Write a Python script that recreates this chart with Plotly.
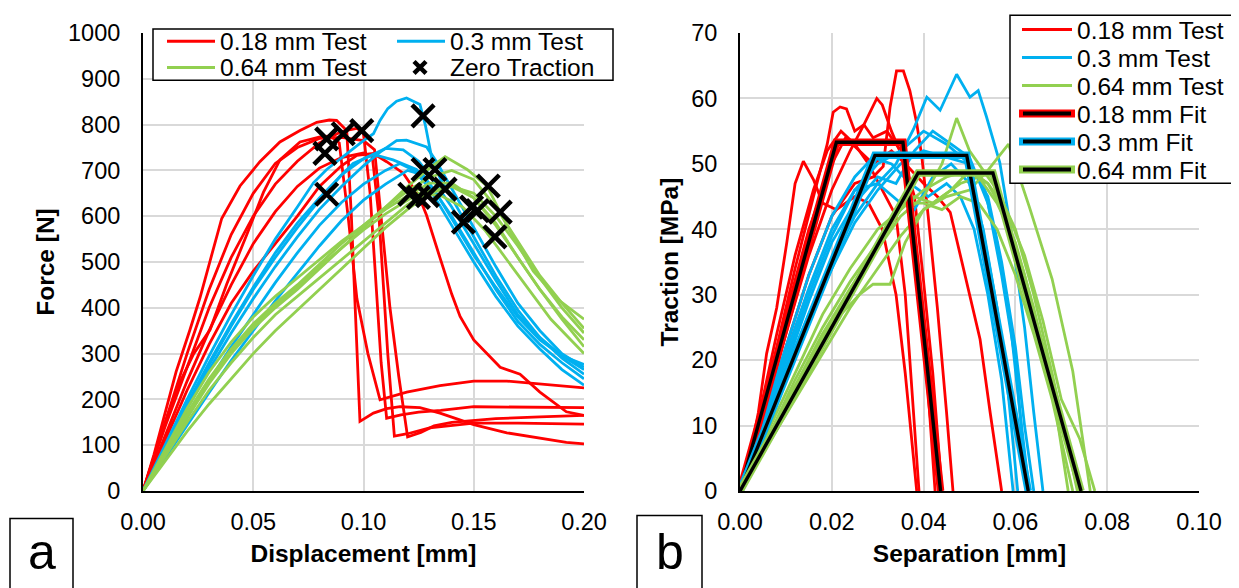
import plotly.graph_objects as go

RED = "#FF0000"
BLUE = "#00B0F0"
GREEN = "#92D050"

# ---------------- Panel a: force vs displacement ----------------
fd_018_x = [
    [0, 0.005, 0.01, 0.015, 0.0213, 0.0259, 0.0304, 0.0357, 0.044, 0.053, 0.0621, 0.0712, 0.0788, 0.0845, 0.0878, 0.0924, 0.0945, 0.0965, 0.0984, 0.1045, 0.1105, 0.1166, 0.1256, 0.1347, 0.1438, 0.15, 0.165, 0.18, 0.192, 0.2],
    [0, 0.008, 0.016, 0.023, 0.0304, 0.038, 0.047, 0.0546, 0.0621, 0.0712, 0.0803, 0.085, 0.089, 0.093, 0.097, 0.102, 0.1075, 0.1196, 0.1347, 0.15, 0.165, 0.18, 0.2],
    [0, 0.01, 0.02, 0.03, 0.04, 0.05, 0.06, 0.07, 0.08, 0.09, 0.097, 0.1, 0.103, 0.106, 0.108, 0.1105, 0.117, 0.125, 0.135, 0.15, 0.165, 0.18, 0.2],
    [0, 0.01, 0.02, 0.03, 0.04, 0.05, 0.06, 0.07, 0.08, 0.09, 0.1, 0.104, 0.107, 0.109, 0.111, 0.114, 0.12, 0.13, 0.14, 0.15, 0.17, 0.2],
    [0, 0.01, 0.02, 0.03, 0.04, 0.05, 0.06, 0.07, 0.08, 0.09, 0.1, 0.105, 0.108, 0.112, 0.116, 0.12, 0.126, 0.132, 0.14, 0.16, 0.18, 0.2],
    [0, 0.01, 0.02, 0.03, 0.04, 0.05, 0.06, 0.07, 0.08, 0.09, 0.097, 0.1045, 0.1105, 0.118, 0.125, 0.1286, 0.1347, 0.14, 0.1438, 0.15, 0.162, 0.171, 0.18, 0.192, 0.2],
]
fd_018_y = [
    [0, 80, 170, 260, 352, 423, 502, 595, 666, 719, 762, 787, 805, 810, 809, 787, 600, 380, 152, 170, 180, 184, 182, 170, 156, 145, 127, 116, 106, 103],
    [0, 120, 230, 300, 352, 452, 559, 652, 723, 762, 773, 775, 760, 600, 420, 300, 199, 216, 230, 240, 240, 234, 225],
    [0, 140, 270, 400, 510, 600, 670, 720, 760, 785, 792, 780, 650, 420, 280, 159, 166, 172, 176, 184, 183, 182, 182],
    [0, 120, 240, 350, 450, 540, 610, 665, 705, 728, 738, 730, 600, 450, 300, 120, 125, 138, 143, 148, 148, 146],
    [0, 150, 300, 440, 560, 650, 715, 750, 770, 772, 765, 745, 600, 400, 250, 118, 128, 142, 150, 158, 162, 165],
    [0, 110, 220, 320, 410, 480, 540, 600, 665, 710, 733, 737, 719, 694, 645, 602, 509, 430, 381, 330, 270, 255, 216, 173, 165],
]

fd_030_x = [
    [0, 0.01, 0.02, 0.03, 0.04, 0.05, 0.06, 0.07, 0.0773, 0.0833, 0.0924, 0.1, 0.1045, 0.1075, 0.111, 0.115, 0.1195, 0.1256, 0.128, 0.131, 0.135, 0.14, 0.15, 0.16, 0.17, 0.18, 0.19, 0.2],
    [0, 0.01, 0.02, 0.03, 0.04, 0.05, 0.06, 0.07, 0.08, 0.09, 0.1, 0.1075, 0.115, 0.1195, 0.1286, 0.133, 0.14, 0.15, 0.16, 0.17, 0.18, 0.19, 0.2],
    [0, 0.01, 0.02, 0.03, 0.04, 0.05, 0.06, 0.07, 0.08, 0.09, 0.0953, 0.1045, 0.1134, 0.124, 0.13, 0.14, 0.15, 0.16, 0.17, 0.18, 0.19, 0.2],
    [0, 0.01, 0.02, 0.03, 0.04, 0.05, 0.06, 0.07, 0.08, 0.09, 0.1, 0.11, 0.1165, 0.123, 0.13, 0.14, 0.15, 0.16, 0.17, 0.18, 0.19, 0.2],
    [0, 0.01, 0.02, 0.03, 0.04, 0.05, 0.06, 0.07, 0.08, 0.09, 0.1, 0.11, 0.12, 0.127, 0.133, 0.14, 0.15, 0.16, 0.17, 0.18, 0.19, 0.2],
    [0, 0.01, 0.02, 0.03, 0.04, 0.05, 0.06, 0.07, 0.08, 0.09, 0.1, 0.11, 0.118, 0.125, 0.13, 0.14, 0.15, 0.16, 0.17, 0.18, 0.19, 0.2],
]
fd_030_y = [
    [0, 100, 200, 295, 385, 470, 550, 620, 673, 702, 737, 765, 780, 809, 835, 851, 858, 844, 800, 726, 680, 640, 555, 470, 395, 335, 290, 255],
    [0, 90, 180, 265, 345, 420, 490, 555, 615, 665, 710, 740, 765, 766, 751, 720, 660, 575, 490, 410, 350, 300, 270],
    [0, 92, 185, 275, 360, 440, 510, 575, 635, 690, 715, 735, 723, 702, 670, 600, 520, 440, 370, 320, 280, 245],
    [0, 80, 160, 240, 315, 385, 455, 520, 580, 630, 670, 700, 715, 700, 660, 580, 500, 425, 360, 310, 265, 231],
    [0, 72, 145, 215, 285, 350, 415, 475, 535, 590, 635, 670, 700, 690, 650, 595, 515, 445, 380, 330, 295, 265],
    [0, 95, 190, 280, 365, 445, 520, 585, 640, 690, 725, 748, 745, 720, 690, 620, 540, 460, 385, 335, 295, 276],
]

fd_064_x = [
    [0, 0.01, 0.02, 0.03, 0.04, 0.05, 0.06, 0.07, 0.08, 0.09, 0.1, 0.11, 0.12, 0.13, 0.137, 0.147, 0.156, 0.165, 0.177, 0.189, 0.2],
    [0, 0.01, 0.02, 0.03, 0.04, 0.05, 0.06, 0.07, 0.08, 0.09, 0.1, 0.11, 0.12, 0.13, 0.14, 0.15, 0.16, 0.17, 0.18, 0.19, 0.2],
    [0, 0.01, 0.02, 0.03, 0.04, 0.05, 0.06, 0.07, 0.08, 0.09, 0.1, 0.11, 0.12, 0.13, 0.14, 0.15, 0.16, 0.17, 0.18, 0.19, 0.2],
    [0, 0.01, 0.02, 0.03, 0.04, 0.05, 0.06, 0.07, 0.08, 0.09, 0.1, 0.11, 0.12, 0.13, 0.14, 0.15, 0.16, 0.17, 0.18, 0.19, 0.2],
    [0, 0.01, 0.02, 0.03, 0.04, 0.05, 0.06, 0.07, 0.08, 0.09, 0.1, 0.11, 0.12, 0.125, 0.135, 0.145, 0.155, 0.165, 0.175, 0.185, 0.2],
    [0, 0.01, 0.02, 0.03, 0.04, 0.05, 0.06, 0.07, 0.08, 0.09, 0.1, 0.11, 0.12, 0.13, 0.14, 0.15, 0.16, 0.17, 0.18, 0.19, 0.2],
]
fd_064_y = [
    [0, 80, 160, 235, 300, 355, 400, 440, 485, 530, 575, 620, 665, 705, 730, 702, 666, 580, 480, 415, 375],
    [0, 85, 170, 245, 310, 365, 410, 450, 495, 540, 580, 620, 655, 685, 700, 680, 620, 545, 470, 410, 355],
    [0, 90, 180, 260, 325, 380, 425, 465, 505, 545, 580, 615, 645, 672, 672, 640, 580, 510, 440, 380, 330],
    [0, 75, 150, 220, 280, 335, 385, 425, 465, 505, 545, 585, 625, 655, 665, 640, 585, 510, 440, 375, 315],
    [0, 82, 165, 240, 305, 360, 405, 445, 490, 530, 570, 605, 635, 650, 645, 620, 570, 505, 440, 375, 300],
    [0, 65, 130, 190, 245, 300, 350, 395, 440, 485, 530, 575, 615, 650, 665, 650, 600, 535, 465, 400, 345],
]

zero_traction_x = [0.0833, 0.0825, 0.0833, 0.0908, 0.0992, 0.127, 0.127, 0.1324, 0.121, 0.1249, 0.129, 0.137, 0.1566, 0.149, 0.1453, 0.162, 0.1596, 0.1517]
zero_traction_y = [769, 737, 648, 780, 787, 819, 702, 702, 648, 641, 645, 659, 666, 620, 587, 609, 555, 612]

# ---------------- Panel b: traction vs separation ----------------
ts_018_x = [
    [0, 0.002, 0.004, 0.0058, 0.008, 0.0102, 0.012, 0.0138, 0.016, 0.018, 0.021, 0.025, 0.028, 0.031, 0.034, 0.036, 0.0385],
    [0, 0.004, 0.008, 0.012, 0.016, 0.019, 0.0203, 0.0218, 0.0232, 0.025, 0.027, 0.029, 0.032, 0.035, 0.037, 0.039, 0.041, 0.0425],
    [0, 0.005, 0.01, 0.015, 0.02, 0.024, 0.027, 0.0298, 0.031, 0.033, 0.036, 0.038, 0.04, 0.042, 0.044],
    [0, 0.005, 0.01, 0.015, 0.02, 0.025, 0.029, 0.0312, 0.0327, 0.0341, 0.0356, 0.037, 0.0385, 0.0396, 0.041, 0.043, 0.045, 0.0464],
    [0, 0.005, 0.01, 0.015, 0.02, 0.023, 0.026, 0.029, 0.033, 0.036, 0.04, 0.043, 0.0458, 0.049, 0.0523, 0.0545, 0.057],
    [0, 0.004, 0.008, 0.012, 0.016, 0.019, 0.022, 0.025, 0.028, 0.031, 0.034, 0.036, 0.0375, 0.039],
]
ts_018_y = [
    [0, 5, 12, 21, 28, 38, 47, 50.4, 47.6, 44, 43, 45, 44, 40, 30, 18, 0],
    [0, 10, 22, 34, 45, 53, 57.9, 58.7, 58.4, 55, 56, 54, 55, 52, 45, 30, 15, 0],
    [0, 11, 24, 36, 46, 52, 56, 60, 59, 55, 50, 45, 32, 18, 0],
    [0, 10, 22, 33, 42, 47, 48, 49.6, 58.7, 64.2, 64.2, 61.2, 56.2, 51.2, 42, 28, 12, 0],
    [0, 13, 27, 40, 50, 54, 52, 50, 52, 50, 47, 45, 42.6, 33, 23.2, 12, 0],
    [0, 11, 24, 36, 46, 52, 55, 53, 50, 46, 42, 30, 15, 0],
]

ts_030_x = [
    [0, 0.005, 0.01, 0.015, 0.02, 0.025, 0.03, 0.034, 0.0378, 0.0407, 0.0436, 0.0472, 0.0501, 0.0519, 0.0537, 0.0566, 0.059, 0.062, 0.064, 0.066],
    [0, 0.005, 0.01, 0.015, 0.02, 0.025, 0.03, 0.035, 0.04, 0.045, 0.05, 0.053, 0.056, 0.059, 0.061, 0.063],
    [0, 0.005, 0.01, 0.015, 0.02, 0.025, 0.029, 0.033, 0.037, 0.041, 0.045, 0.048, 0.051, 0.054, 0.057, 0.0595],
    [0, 0.005, 0.01, 0.015, 0.02, 0.025, 0.03, 0.035, 0.038, 0.042, 0.046, 0.05, 0.053, 0.056, 0.058, 0.0605],
    [0, 0.005, 0.01, 0.015, 0.02, 0.025, 0.03, 0.035, 0.04, 0.045, 0.05, 0.054, 0.057, 0.06, 0.062, 0.064],
    [0, 0.005, 0.01, 0.015, 0.02, 0.025, 0.03, 0.034, 0.038, 0.042, 0.046, 0.05, 0.054, 0.057, 0.06, 0.0615, 0.0625],
]
ts_030_y = [
    [0, 9, 18, 27, 35, 42, 47, 50, 55.3, 60.2, 58.2, 63.7, 60.2, 61.2, 57.2, 50.2, 40, 25, 12, 0],
    [0, 10, 20, 30, 39, 46, 50, 52, 55, 53, 50, 47, 38, 25, 12, 0],
    [0, 11, 22, 33, 42, 48, 51, 50, 47, 45, 47, 45, 40, 30, 17, 0],
    [0, 10, 21, 31, 40, 46, 47, 44, 43, 48, 50, 47, 40, 28, 18, 0],
    [0, 8, 17, 26, 34, 41, 46, 50, 52, 51, 50, 45, 35, 22, 10, 0],
    [0, 9, 19, 29, 38, 44, 48, 47, 52, 55, 53, 51, 44, 33, 20, 8, 0],
]

ts_064_x = [
    [0, 0.006, 0.012, 0.018, 0.024, 0.03, 0.035, 0.04, 0.044, 0.0472, 0.05, 0.053, 0.056, 0.06, 0.064, 0.068, 0.071, 0.0735],
    [0, 0.006, 0.012, 0.018, 0.024, 0.03, 0.035, 0.04, 0.045, 0.05, 0.054, 0.0585, 0.063, 0.068, 0.0725, 0.0763],
    [0, 0.006, 0.012, 0.018, 0.022, 0.026, 0.029, 0.0327, 0.036, 0.04, 0.044, 0.048, 0.052, 0.056, 0.06, 0.064, 0.068, 0.0715],
    [0, 0.006, 0.012, 0.018, 0.024, 0.03, 0.035, 0.04, 0.045, 0.05, 0.054, 0.058, 0.062, 0.066, 0.07, 0.0745],
    [0, 0.006, 0.012, 0.018, 0.024, 0.03, 0.034, 0.038, 0.042, 0.046, 0.05, 0.054, 0.058, 0.062, 0.066, 0.07, 0.074, 0.0773],
    [0, 0.006, 0.012, 0.018, 0.024, 0.028, 0.032, 0.036, 0.04, 0.044, 0.048, 0.052, 0.056, 0.06, 0.064, 0.068, 0.0705, 0.0725],
]
ts_064_y = [
    [0, 8, 16, 24, 31, 37, 42, 45, 50, 57, 52, 49, 46, 40, 30, 18, 8, 0],
    [0, 7, 14, 21, 28, 34, 39, 43, 45, 46, 49, 53, 43.5, 32.4, 18.3, 0],
    [0, 8, 16, 23, 27, 30, 31.6, 31.6, 38, 43, 45, 47, 48, 44, 38, 28, 16, 0],
    [0, 9, 18, 27, 34, 40, 43, 46, 48, 49, 47, 42, 33, 22, 10, 0],
    [0, 8, 17, 25, 32, 38, 43, 45, 44, 46, 49, 47, 43, 36, 26, 14, 8, 0],
    [0, 8, 16, 24, 30, 35, 40, 44, 44, 43, 45, 44, 40, 33, 24, 14, 6, 0],
]

fit_018_x = [0, 0.021, 0.0355, 0.0437]
fit_018_y = [0, 53.3, 53.3, 0]
fit_030_x = [0, 0.0294, 0.0494, 0.0628]
fit_030_y = [0, 51.3, 51.3, 0]
fit_064_x = [0, 0.0388, 0.0551, 0.0743]
fit_064_y = [0, 48.6, 48.6, 0]

FONT = "Liberation Sans, Arial, sans-serif"
TEST_W = 2.8

fig = go.Figure()

for xs_all, ys_all, col in [(fd_018_x, fd_018_y, RED), (fd_030_x, fd_030_y, BLUE), (fd_064_x, fd_064_y, GREEN)]:
    for xs, ys in zip(xs_all, ys_all):
        fig.add_trace(go.Scatter(x=xs, y=ys, mode="lines", line=dict(color=col, width=TEST_W),
                                 xaxis="x", yaxis="y", showlegend=False, hoverinfo="skip"))

fig.add_trace(go.Scatter(x=zero_traction_x, y=zero_traction_y, mode="markers",
                         marker=dict(symbol="x-thin", size=22, line=dict(color="black", width=4.5)),
                         xaxis="x", yaxis="y", showlegend=False, name="Zero Traction"))

for xs_all, ys_all, col in [(ts_018_x, ts_018_y, RED), (ts_030_x, ts_030_y, BLUE), (ts_064_x, ts_064_y, GREEN)]:
    for xs, ys in zip(xs_all, ys_all):
        fig.add_trace(go.Scatter(x=xs, y=ys, mode="lines", line=dict(color=col, width=TEST_W),
                                 xaxis="x2", yaxis="y2", showlegend=False, hoverinfo="skip"))

for fx, fy, col in [(fit_018_x, fit_018_y, RED), (fit_030_x, fit_030_y, BLUE), (fit_064_x, fit_064_y, GREEN)]:
    fig.add_trace(go.Scatter(x=fx, y=fy, mode="lines", line=dict(color=col, width=7.5),
                             xaxis="x2", yaxis="y2", showlegend=False))
    fig.add_trace(go.Scatter(x=fx, y=fy, mode="lines", line=dict(color="black", width=3.4),
                             xaxis="x2", yaxis="y2", showlegend=False))

axis_common = dict(showgrid=True, gridcolor="#d9d9d9", gridwidth=1.5, showline=True,
                   linecolor="black", linewidth=2, zeroline=False, ticks="",
                   tickfont=dict(family=FONT, size=23.5, color="black"))

# The page body adds an 8 px offset; screen plot area is x 143..1199, y 25..491
OFF = 8
L, T, W, H = 143 - OFF, 25 - OFF, 1056, 466
FIG_W, FIG_H = 1239 - OFF, 588 - OFF


def px(v):
    # screen x -> paper
    return (v - OFF - L) / W


def py(v):
    # screen y -> paper
    return (T + H - (v - OFF)) / H


fig.update_layout(
    width=FIG_W, height=FIG_H,
    margin=dict(l=L, r=FIG_W - L - W, t=T, b=FIG_H - T - H),
    paper_bgcolor="white", plot_bgcolor="white", showlegend=False,
    font=dict(family=FONT, size=23.5, color="black"),
    xaxis=dict(domain=[0, 441 / W], range=[0, 0.2], dtick=0.05, tickformat=".2f",
               anchor="y", ticklabelstandoff=9,
               title=dict(text="<b>Displacement [mm]</b>", font=dict(family=FONT, size=24.5), standoff=11),
               **axis_common),
    yaxis=dict(domain=[0, 1], range=[0, 1000], dtick=100, anchor="x", ticklabelstandoff=16,
               title=dict(text="<b>Force [N]</b>", font=dict(family=FONT, size=24.5), standoff=6),
               **axis_common),
    xaxis2=dict(domain=[597 / W, 1], range=[0, 0.1], dtick=0.02, tickformat=".2f",
                anchor="y2", ticklabelstandoff=9,
                title=dict(text="<b>Separation [mm]</b>", font=dict(family=FONT, size=24.5), standoff=11),
                **axis_common),
    yaxis2=dict(domain=[0, 1], range=[0, 70], dtick=10, anchor="x2", ticklabelstandoff=16,
                title=dict(text="<b>Traction [MPa]</b>", font=dict(family=FONT, size=24.5), standoff=6),
                **axis_common),
)

shapes = []
annotations = []


def hline(x0, x1, y, color, width):
    shapes.append(dict(type="line", xref="paper", yref="paper", x0=px(x0), x1=px(x1),
                       y0=py(y), y1=py(y), line=dict(color=color, width=width), layer="above"))


def text(x, y, s, size=24.5, anchor="left"):
    annotations.append(dict(xref="paper", yref="paper", x=px(x), y=py(y), text=s, showarrow=False,
                            xanchor=anchor, yanchor="middle", borderpad=0,
                            font=dict(family=FONT, size=size, color="black")))


# Legend of panel a
shapes.append(dict(type="rect", xref="paper", yref="paper", x0=px(153), x1=px(613), y0=py(73), y1=py(21),
                   fillcolor="white", line=dict(color="black", width=1.5), layer="above"))
hline(167, 215, 33.5, RED, 3)
text(219, 34, "0.18 mm Test")
hline(397, 445, 33.5, BLUE, 3)
text(449, 34, "0.3 mm Test")
hline(167, 215, 60, GREEN, 3)
text(219, 60.5, "0.64 mm Test")
for (a0, b0, a1, b1) in [(414, 54, 426, 66), (414, 66, 426, 54)]:
    shapes.append(dict(type="line", xref="paper", yref="paper", x0=px(a0), x1=px(a1), y0=py(b0), y1=py(b1),
                       line=dict(color="black", width=4.5), layer="above"))
text(449, 60.5, "Zero Traction")

# Legend of panel b
shapes.append(dict(type="rect", xref="paper", yref="paper", x0=px(1010), x1=px(1237), y0=py(178), y1=py(7),
                   fillcolor="white", line=dict(color="black", width=1.5), layer="above"))
rows = [21.5, 50, 78.5, 107, 135.5, 164]
labels = ["0.18 mm Test", "0.3 mm Test", "0.64 mm Test", "0.18 mm Fit", "0.3 mm Fit", "0.64 mm Fit"]
cols = [RED, BLUE, GREEN, RED, BLUE, GREEN]
for i, (r, lab, c) in enumerate(zip(rows, labels, cols)):
    if i < 3:
        hline(1022, 1072, r, c, 3)
    else:
        hline(1019, 1075, r, c, 8)
        hline(1023, 1071, r, "black", 4)
    text(1076, r + 0.5, lab)

# Panel letters
for (x0, x1, y0, letter) in [(10, 73, 519, "a"), (637, 702, 516, "b")]:
    shapes.append(dict(type="rect", xref="paper", yref="paper", x0=px(x0), x1=px(x1), y0=py(600), y1=py(y0),
                       fillcolor="rgba(0,0,0,0)", line=dict(color="black", width=1.5), layer="above"))
    text((x0 + x1) / 2, 553, letter, size=50, anchor="center")

fig.update_layout(shapes=shapes, annotations=annotations)

fig.write_html("out.html")
